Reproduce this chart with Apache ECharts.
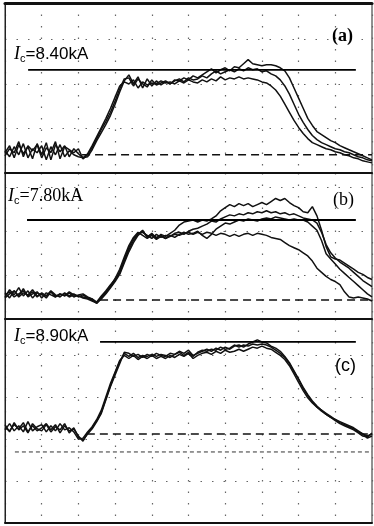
<!DOCTYPE html>
<html>
<head>
<meta charset="utf-8">
<script src="https://cdn.jsdelivr.net/npm/echarts@6/dist/echarts.min.js"></script>
<style>
  html, body { margin: 0; padding: 0; background: #fff; }
  #chart { width: 374px; height: 526px; }
</style>
</head>
<body>
<div id="chart"></div>
<script>
// sample times, in screen divisions (0..10)
const T = [0,0.125,0.25,0.375,0.5,0.625,0.75,0.875,1,1.125,1.25,1.375,1.5,1.625,1.75,1.875,2,2.125,2.25,2.375,2.5,2.625,2.75,2.875,3,3.125,3.25,3.375,3.5,3.625,3.75,3.875,4,4.125,4.25,4.375,4.5,4.625,4.75,4.875,5,5.125,5.25,5.375,5.5,5.625,5.75,5.875,6,6.125,6.25,6.375,6.5,6.625,6.75,6.875,7,7.125,7.25,7.375,7.5,7.625,7.75,7.875,8,8.125,8.25,8.375,8.5,8.625,8.75,8.875,9,9.125,9.25,9.375,9.5,9.625,9.75,9.875,10]

// (a) Ic = 8.40 kA, current in kA
const A1 = [0.2,0.9,-0.3,1.0,0.1,0.8,-0.4,1.1,0.0,1.2,-0.5,1.0,0.3,0.9,-0.2,0.6,0.1,-0.3,
  -0.2,0.5,1.4,2.2,3.0,3.9,5.0,6.2,7.3,7.9, 7.0,7.7,6.6,7.5,6.8,7.3,6.9,7.2,7.0,7.4,
  7.3,7.6,7.4,7.8,7.6,7.9,8.2,8.5,8.1,8.4, 8.6,8.3,8.7,8.6,9.0,9.4,9.0,8.9,8.8,8.9,
  8.9,8.8,8.6,8.3,7.6,6.6,5.6,4.6,3.6,2.9, 2.3,2.0,1.7,1.4,1.2,0.9,0.7,0.5,0.3,0.1, -0.1,-0.3,-0.5]
const A2 = [-0.1,0.6,0.2,1.3,-0.2,0.9,0.4,1.0,-0.3,0.7,0.2,1.3,-0.4,0.8,0.5,0.2,0.6,-0.4,
  0.0,0.7,1.6,2.5,3.3,4.2,5.3,6.5,7.5,7.6, 6.8,7.5,7.0,6.7,7.4,6.9,7.1,7.3,7.0,7.3,
  7.5,7.2,7.6,7.4,7.5,7.8,7.6,8.0,8.3,8.0, 8.2,8.4,8.2,8.5,8.3,8.6,8.4,8.5,8.2,8.3,
  8.0,7.8,7.4,6.8,6.0,5.0,4.0,3.2,2.5,1.9, 1.5,1.2,1.0,0.8,0.6,0.5,0.3,0.2,0.0,-0.2, -0.3,-0.5,-0.6]
const A3 = [0.4,-0.2,0.8,0.0,1.1,-0.3,0.6,0.2,0.9,-0.5,0.8,0.0,1.0,-0.2,0.4,0.0,-0.2,-0.3,
  0.1,0.9,1.8,2.7,3.6,4.6,5.7,6.8,7.2,7.0, 7.4,6.6,7.2,6.9,7.1,7.0,7.3,7.1,7.2,7.0,
  7.3,7.1,7.4,7.2,7.1,7.4,7.2,7.5,7.3,7.7, 7.4,7.6,7.5,7.7,7.5,7.6,7.5,7.4,7.2,7.1,
  6.8,6.4,5.8,5.0,4.2,3.4,2.7,2.1,1.6,1.2, 1.0,0.8,0.6,0.5,0.3,0.2,0.0,-0.1,-0.3,-0.4, -0.6,-0.7,-0.8]

// (b) Ic = 7.80 kA
const B1 = [0.3,1.0,0.5,1.2,0.4,0.9,0.2,0.7,0.5,0.4,0.8,0.3,0.6,0.4,0.7,0.3,0.5,0.6,0.3,0.1,-0.2,
  0.4,0.9,1.5,2.0,2.6,3.8,4.9,5.8,6.4, 6.8,6.1,6.5,6.0,6.4,6.2,6.5,6.8,7.3,7.6,
  7.7,7.8,7.6,7.8,7.7,7.9,8.2,8.7,9.0,9.3, 9.1,9.4,9.2,9.4,9.1,9.3,9.5,9.3,9.6,9.9,
  9.7,9.9,9.5,9.2,9.0,8.6,8.5,9.1,8.2,6.8, 5.2,4.2,4.0,3.9,3.6,3.3,3.0,2.7,2.5,2.2, 2.0]
const B2 = [0.7,0.2,0.9,0.4,1.1,0.3,0.6,0.8,0.2,0.7,0.5,0.3,0.6,0.4,0.8,0.5,0.4,0.3,0.2,0.0,-0.3,
  0.2,0.7,1.3,1.9,2.8,4.0,5.1,6.0,6.5, 6.6,6.3,6.0,6.4,6.1,6.3,6.2,6.5,6.6,6.4,
  6.7,6.9,7.0,7.2,7.4,7.7,7.6,7.9,8.1,8.3, 8.2,8.4,8.3,8.5,8.4,8.6,8.5,8.7,8.5,8.6,
  8.4,8.5,8.3,8.4,8.2,8.0,7.9,7.8,7.5,6.6, 5.4,4.6,4.1,3.7,3.4,3.1,2.7,2.3,1.9,1.6, 1.3]
const B3 = [0.5,0.8,0.3,0.6,0.9,0.4,0.8,0.3,0.7,0.4,0.9,0.5,0.3,0.7,0.4,0.6,0.3,0.5,0.2,0.1,-0.3,
  0.3,0.8,1.4,2.1,3.0,4.2,5.3,6.1,6.6, 6.3,6.0,6.3,5.9,6.2,6.0,6.3,6.1,6.4,6.6,
  6.4,6.5,6.7,6.3,6.0,6.4,6.9,7.2,7.5,7.4, 7.6,7.8,7.7,7.9,7.8,7.7,7.9,8.0,7.9,8.1,
  8.0,7.9,7.8,7.9,7.8,7.8,7.6,7.2,6.8,5.8, 4.5,4.0,3.5,3.0,2.6,2.2,1.8,1.4,1.0,0.6, 0.3]
const B4 = [0.2,0.6,0.9,0.3,0.7,0.5,1.0,0.4,0.6,0.2,0.8,0.4,0.5,0.6,0.3,0.5,0.4,0.2,0.1,-0.1,-0.3,
  0.1,0.6,1.2,1.8,2.5,3.6,4.7,5.6,6.3, 6.7,6.2,6.4,6.1,6.3,6.0,6.2,6.4,6.3,6.5,
  6.6,6.4,6.6,6.4,6.6,6.5,6.3,6.5,6.4,6.2, 6.4,6.2,6.4,6.5,6.3,6.5,6.4,6.3,6.1,6.0,
  5.9,5.6,5.3,5.1,4.9,4.6,4.3,3.8,3.1,2.7, 2.3,2.0,1.8,1.5,0.8,0.3,0.2,0.3,0.2,0.1, -0.1]

// (c) Ic = 8.90 kA
const C1 = [0.9,0.2,1.1,0.4,0.8,0.1,1.0,0.5,0.3,0.9,0.2,0.7,0.4,1.0,0.1,0.6,-0.3,-0.6,
  0.0,0.5,1.2,2.0,3.3,4.6,5.7,6.8,7.9,7.8, 7.5,7.7,7.4,7.7,7.5,7.8,7.6,7.5,7.8,7.7,
  8.0,7.8,8.1,7.6,7.8,8.0,8.2,8.0,8.3,8.1, 8.4,8.2,8.5,8.6,8.4,8.7,8.9,9.1,8.9,8.8,
  8.5,8.3,8.0,7.5,6.9,6.1,5.3,4.4,3.7,3.1, 2.6,2.2,1.9,1.6,1.3,1.0,0.8,0.6,0.4,0.1, -0.2,-0.3,0.1]
const C2 = [0.4,1.0,0.3,0.8,0.2,1.2,0.3,0.7,0.9,0.2,0.8,0.3,1.0,0.4,0.6,0.2,-0.5,-0.4,
  0.2,0.7,1.4,2.3,3.6,4.9,6.0,7.1,7.6,7.3, 7.6,7.2,7.5,7.3,7.6,7.3,7.5,7.3,7.6,7.4,
  7.7,7.5,7.8,7.3,7.6,7.8,7.9,7.7,8.0,7.8, 8.1,7.9,8.0,8.2,8.0,8.2,8.4,8.3,8.5,8.3,
  8.2,7.9,7.6,7.2,6.6,5.8,5.0,4.2,3.5,3.0, 2.6,2.3,1.9,1.6,1.4,1.1,0.9,0.7,0.5,0.2, 0.0,-0.4,-0.2]
const C3 = [0.6,0.3,0.9,0.5,1.1,0.2,0.8,0.3,0.6,1.0,0.4,0.9,0.1,0.8,0.3,0.5,-0.2,-0.7,
  0.1,0.6,1.3,2.1,3.4,4.7,5.9,7.0,7.8,7.5, 7.8,7.4,7.6,7.5,7.7,7.5,7.7,7.6,7.4,7.7,
  7.9,7.6,7.9,7.5,7.9,8.1,8.0,8.2,8.1,8.4, 8.2,8.3,8.6,8.4,8.6,8.5,8.7,8.6,8.7,8.6,
  8.4,8.1,7.8,7.4,6.8,6.0,5.3,4.5,3.8,3.2, 2.7,2.3,2.0,1.7,1.4,1.2,1.0,0.8,0.6,0.3, 0.0,-0.2,0.0]

const TRACES = [[A1, A2, A3], [B1, B2, B3, B4], [C1, C2, C3]]

// critical current levels and where their reference lines start / end
const IC_LEVELS = [8.40, 7.80, 8.90]
const IC_LABELS = ['8.40kA', '7.80kA', '8.90kA']
const IC_FROM = [0.63, 0.6, 2.59]
const IC_TO = 9.56
const BASE_FROM = [2.1, 2.59, 2.23]
const PANEL_TAGS = ['(a)', '(b)', '(c)']
// extra dashed reference below trace (c)
const C_REF = -1.74
const C_REF_FROM = 0.27

// layout: pixel boxes of the three screens
const panels = [
  { top: 3, height: 170, yMin: -1.8, yMax: 15.0, gMin: 0.079, gMax: 3.899 },
  { top: 173, height: 146, yMin: -1.85, yMax: 12.38, gMin: 0.045, gMax: 3.364 },
  { top: 319, height: 204, yMin: -8.61, yMax: 11.12, gMin: 0.286, gMax: 5.143 }
]

const chart = echarts.init(document.getElementById('chart'))

const dotted = { type: [1.5, 10], color: '#666', width: 1.2 }

const grid = panels.map(p => ({
  left: 5, right: 2, top: p.top, height: p.height,
  show: true, borderColor: '#222', borderWidth: 1
}))

const xAxis = panels.map((p, gi) => ({
  type: 'value', gridIndex: gi, min: 0, max: 10, interval: 1,
  axisLabel: { show: false }, axisTick: { show: false },
  axisLine: { show: true, onZero: false, lineStyle: { color: '#111', width: 2 } },
  splitLine: { show: true, lineStyle: dotted }
}))
// heavy top edge of the first screen
xAxis.push({
  type: 'value', gridIndex: 0, position: 'top', min: 0, max: 10,
  axisLabel: { show: false }, axisTick: { show: false }, splitLine: { show: false },
  axisLine: { show: true, onZero: false, lineStyle: { color: '#111', width: 3 } }
})

const yAxis = panels.map((p, gi) => ({
  type: 'value', gridIndex: gi, min: p.yMin, max: p.yMax, show: false
})).concat(panels.map((p, gi) => ({
  type: 'value', gridIndex: gi, position: 'left', min: p.gMin, max: p.gMax, interval: 1,
  axisLabel: { show: false }, axisTick: { show: false },
  axisLine: { show: true, onZero: false, lineStyle: { color: '#222', width: 1 } },
  splitLine: { show: true, lineStyle: dotted }
})))

const series = []
TRACES.forEach((group, gi) => {
  group.forEach(vals => {
    series.push({
      type: 'line', xAxisIndex: gi, yAxisIndex: gi,
      data: T.map((t, k) => [t, vals[k]]),
      symbol: 'none', silent: true,
      lineStyle: { color: '#111', width: 1.5 }
    })
  })
  // Ic level
  series.push({
    type: 'line', xAxisIndex: gi, yAxisIndex: gi, symbol: 'none', silent: true,
    data: [[IC_FROM[gi], IC_LEVELS[gi]], [IC_TO, IC_LEVELS[gi]]],
    lineStyle: { color: '#000', width: 1.8 }
  })
  // zero line
  series.push({
    type: 'line', xAxisIndex: gi, yAxisIndex: gi, symbol: 'none', silent: true,
    data: [[BASE_FROM[gi], 0], [10, 0]],
    lineStyle: { color: '#111', width: 1.6, type: [8, 5] }
  })
})
series.push({
  type: 'line', xAxisIndex: 2, yAxisIndex: 2, symbol: 'none', silent: true,
  data: [[C_REF_FROM, C_REF], [10, C_REF]],
  lineStyle: { color: '#333', width: 1, type: [4, 3] }
})

const rich = {
  i: { fontFamily: 'Liberation Serif', fontStyle: 'italic', fontWeight: 'normal', fontSize: 18, color: '#000' },
  s: { fontFamily: 'Liberation Sans', fontWeight: 'normal', fontSize: 11, color: '#000', padding: [8, 0, 0, 0] },
  t: { fontFamily: 'Liberation Sans', fontWeight: 'normal', fontSize: 17, color: '#000' },
  ts: { fontFamily: 'Liberation Serif', fontWeight: 'normal', fontSize: 18, color: '#000' }
}
const labelPos = [{ left: 14, top: 45 }, { left: 8, top: 187 }, { left: 14, top: 327 }]
const tagPos = [{ left: 332, top: 27, weight: 'bold', family: 'Liberation Serif' },
  { left: 333, top: 191, weight: 'normal', family: 'Liberation Serif' },
  { left: 335, top: 357, weight: 'normal', family: 'Liberation Sans' }]

const title = IC_LABELS.map((lab, gi) => ({
  left: labelPos[gi].left, top: labelPos[gi].top, padding: 0,
  text: '{i|I}{s|c}{' + (gi === 1 ? 'ts' : 't') + '|=' + lab + '}',
  textStyle: { fontWeight: 'normal', rich }
})).concat(PANEL_TAGS.map((tag, gi) => ({
  left: tagPos[gi].left, top: tagPos[gi].top, padding: 0, text: tag,
  textStyle: { fontFamily: tagPos[gi].family, fontWeight: tagPos[gi].weight, fontSize: 18, color: '#000' }
})))

chart.setOption({
  animation: false,
  backgroundColor: '#fff',
  title,
  grid,
  xAxis,
  yAxis,
  series
})
</script>
</body>
</html>
